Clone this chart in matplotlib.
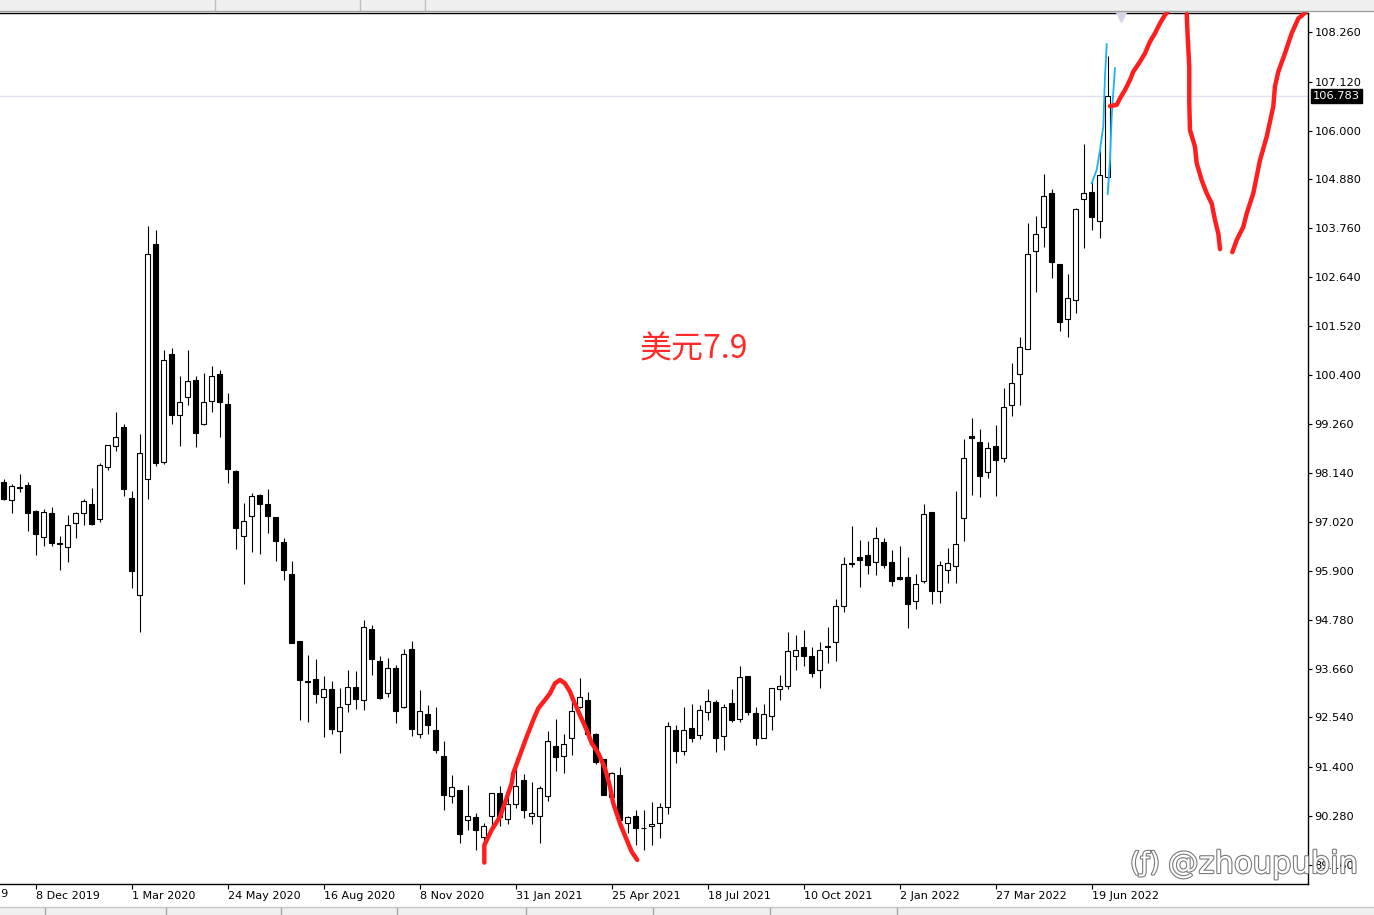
import matplotlib

matplotlib.use('Agg')
import matplotlib.pyplot as plt
import matplotlib.patheffects as pe
import matplotlib.transforms as mtransforms
from matplotlib.patches import Rectangle
import numpy as np
import pandas as pd

# weekly US dollar index candles, first bar = week of 10 Nov 2019
first_week = '2019-11-10'
opens = [97.93, 97.52, 97.82, 97.86, 97.27, 96.67, 97.22, 96.53, 96.44, 96.99,
         97.22, 97.43, 97.08, 98.28, 98.76, 99.19, 97.57, 95.34, 98.00, 103.39,
         98.40, 100.87, 99.47, 99.90, 100.29, 99.26, 99.79, 100.41, 99.72, 98.18,
         96.69, 97.15, 97.64, 97.43, 97.13, 96.56, 95.84, 94.29, 93.38, 93.41,
         93.00, 93.18, 92.22, 92.84, 93.23, 92.95, 94.56, 93.83, 93.09, 93.67,
         92.77, 94.10, 92.17, 92.61, 92.24, 91.65, 90.73, 90.87, 90.18, 90.25,
         89.79, 90.27, 90.80, 90.20, 90.55, 91.10, 90.27, 90.27, 90.73, 91.88,
         91.65, 92.06, 92.77, 92.95, 92.17, 91.58, 90.71, 91.21, 90.11, 90.27,
         90.01, 90.04, 90.11, 90.48, 92.24, 91.76, 92.29, 92.13, 92.66, 92.89,
         92.11, 92.86, 92.51, 93.48, 92.63, 92.07, 92.58, 93.18, 93.25, 93.94,
         94.15, 93.94, 93.62, 94.16, 94.26, 95.09, 96.07, 96.21, 96.26, 96.10,
         96.56, 96.10, 95.75, 95.75, 95.20, 95.66, 97.24, 95.43, 95.91, 96.01,
         97.11, 98.99, 98.85, 98.16, 98.76, 98.48, 99.70, 100.41, 100.99, 103.23,
         103.78, 104.56, 102.93, 101.67, 102.11, 104.42, 104.58, 103.92, 104.93]
highs = [98.01, 97.89, 98.12, 97.93, 97.30, 97.32, 97.37, 96.70, 97.18, 97.24,
         97.54, 97.80, 98.37, 98.79, 99.54, 99.26, 97.73, 99.03, 103.81, 103.71,
         100.96, 101.01, 100.36, 100.97, 100.36, 100.45, 100.60, 100.50, 99.97, 98.21,
         97.45, 97.68, 97.66, 97.78, 97.14, 96.65, 96.12, 94.30, 93.97, 93.88,
         93.49, 93.37, 93.21, 93.63, 93.60, 94.77, 94.65, 93.95, 93.90, 93.74,
         94.11, 94.29, 93.17, 92.82, 92.78, 92.01, 91.21, 90.88, 90.98, 90.34,
         90.11, 90.81, 90.96, 90.80, 91.60, 91.24, 91.05, 90.96, 92.22, 92.50,
         92.15, 92.91, 93.44, 93.12, 92.18, 91.59, 91.28, 91.40, 90.27, 90.41,
         90.41, 90.59, 90.57, 92.43, 92.36, 92.77, 92.84, 92.82, 93.18, 92.95,
         92.84, 93.18, 93.73, 93.49, 92.77, 92.84, 93.22, 93.51, 94.49, 94.42,
         94.54, 94.15, 94.26, 94.61, 95.25, 96.21, 96.92, 96.62, 96.58, 96.90,
         96.65, 96.37, 96.46, 96.21, 95.82, 97.43, 97.25, 96.12, 96.42, 97.73,
         98.92, 99.40, 99.15, 98.85, 99.24, 100.09, 100.67, 101.26, 103.87, 104.03,
         105.00, 104.65, 102.94, 102.70, 104.22, 105.68, 104.84, 105.52, 107.70]
lows = [97.52, 97.23, 97.72, 96.82, 96.27, 96.46, 96.46, 95.92, 96.11, 96.66,
        96.96, 96.96, 97.03, 98.22, 98.66, 97.62, 95.51, 94.51, 97.54, 98.31,
        98.36, 99.28, 98.77, 99.71, 98.75, 99.25, 99.55, 98.98, 97.91, 96.40,
        95.61, 96.34, 96.29, 96.76, 96.13, 95.68, 94.24, 92.49, 92.44, 92.88,
        92.10, 92.17, 91.72, 92.66, 92.74, 92.72, 93.52, 92.97, 93.00, 92.42,
        92.75, 92.12, 92.07, 92.15, 91.72, 90.42, 90.58, 89.67, 89.95, 89.51,
        89.63, 90.06, 90.04, 90.09, 90.46, 90.23, 90.09, 89.65, 90.62, 91.32,
        91.26, 91.67, 92.76, 92.15, 91.46, 90.75, 90.65, 90.10, 89.90, 89.61,
        89.49, 89.61, 89.78, 90.32, 91.50, 91.68, 91.98, 92.05, 92.49, 91.75,
        91.80, 92.44, 92.44, 92.60, 91.91, 92.06, 92.26, 92.95, 93.18, 93.63,
        93.73, 93.46, 93.22, 93.78, 93.84, 94.95, 95.98, 95.52, 95.82, 95.80,
        95.96, 95.55, 95.69, 94.58, 95.02, 95.63, 95.13, 95.16, 95.63, 95.63,
        96.58, 97.63, 97.59, 98.02, 97.61, 98.39, 99.46, 99.71, 100.98, 102.30,
        103.34, 102.62, 101.41, 101.26, 101.82, 103.31, 103.73, 103.53, 104.65]
closes = [97.54, 97.84, 97.80, 97.23, 96.74, 97.24, 96.55, 96.51, 96.95, 97.22,
          97.50, 96.97, 98.34, 98.78, 98.96, 97.79, 95.90, 98.60, 103.16, 98.38,
          100.73, 99.48, 99.77, 100.25, 99.07, 99.77, 100.36, 99.78, 98.23, 96.88,
          97.04, 97.61, 97.43, 97.15, 96.59, 95.93, 94.25, 93.40, 93.36, 93.07,
          93.18, 92.27, 92.77, 93.23, 92.97, 94.61, 93.87, 92.98, 93.67, 92.68,
          93.99, 92.27, 92.68, 92.36, 91.79, 90.77, 90.94, 89.86, 90.27, 89.95,
          90.04, 90.80, 90.25, 90.55, 90.96, 90.41, 90.34, 90.91, 91.99, 91.64,
          91.92, 92.68, 93.00, 92.17, 91.51, 90.77, 91.26, 90.18, 90.25, 90.00,
          90.00, 90.09, 90.48, 92.34, 91.78, 92.24, 92.07, 92.70, 92.91, 92.07,
          92.77, 92.49, 93.46, 92.67, 92.07, 92.61, 93.21, 93.25, 94.06, 94.08,
          93.94, 93.55, 94.08, 94.18, 95.09, 96.05, 96.05, 96.14, 96.03, 96.65,
          96.03, 95.66, 95.71, 95.13, 95.59, 97.20, 95.43, 96.03, 96.07, 96.51,
          98.48, 98.94, 98.07, 98.71, 98.44, 99.67, 100.20, 101.03, 103.16, 103.62,
          104.49, 102.99, 101.60, 102.15, 104.19, 104.56, 104.01, 104.97, 106.783]

price_ticks = [108.260, 107.120, 106.000, 104.880, 103.760, 102.640, 101.520,
               100.400, 99.260, 98.140, 97.020, 95.900, 94.780, 93.660, 92.540,
               91.400, 90.280, 89.160]
date_labels = ['2019-09-15', '2019-12-08', '2020-03-01', '2020-05-24', '2020-08-16',
               '2020-11-08', '2021-01-31', '2021-04-25', '2021-07-18', '2021-10-10',
               '2022-01-02', '2022-03-27', '2022-06-19']

# hand drawn strokes (bar index, price)
arc_x = [60.08, 60.08, 61.0, 62.04, 62.79, 63.5, 63.7, 64.54, 65.38, 66.2, 66.83,
         67.66, 68.29, 68.91, 69.54, 70.16, 70.79, 71.2, 72.04, 72.88, 73.5, 74.33,
         75.16, 75.79, 76.2, 77.04, 77.88, 78.5, 79.2]
arc_y = [89.21, 89.61, 89.96, 90.26, 90.65, 91.03, 91.26, 91.68, 92.10, 92.48, 92.75,
         92.94, 93.09, 93.32, 93.40, 93.32, 93.13, 92.94, 92.59, 92.25, 91.95, 91.72,
         91.37, 90.95, 90.57, 90.11, 89.73, 89.46, 89.27]
up_x = [138.29, 139.13, 139.54, 140.16, 140.79, 141.2, 142.04, 142.66, 143.29,
        143.91, 144.54, 145.16, 145.7]
up_y = [106.56, 106.59, 106.74, 106.93, 107.16, 107.35, 107.58, 107.77, 108.04,
        108.23, 108.46, 108.65, 108.78]
down_x = [147.88, 148.0, 148.2, 148.2, 148.29, 148.91, 149.13, 149.75, 150.38,
          151.0, 151.41, 151.83, 152.04]
down_y = [108.67, 108.15, 107.46, 106.62, 106.01, 105.63, 105.25, 104.86, 104.56,
          104.33, 103.95, 103.64, 103.28]
rise_x = [153.58, 154.13, 154.95, 155.38, 156.2, 157.04, 157.88, 158.7, 158.91,
          159.33, 160.16, 161.0, 161.83, 162.66]
rise_y = [103.21, 103.49, 103.79, 104.10, 104.56, 105.32, 105.86, 106.55, 107.01,
          107.35, 107.77, 108.23, 108.57, 108.70]
blue1_x = [136.0, 136.63, 137.04, 137.45, 137.66, 137.88]
blue1_y = [104.79, 105.10, 105.55, 106.09, 107.23, 107.98]
blue2_x = [138.0, 138.29, 138.5, 138.91]
blue2_y = [104.54, 105.32, 106.32, 107.43]

W, H = 1374, 915
fig = plt.figure(figsize=(W / 100, H / 100), dpi=100)
fig.patch.set_facecolor('white')

# window chrome: toolbar on top, status bar at the bottom
fig.patches.append(Rectangle((0, 1 - 11 / H), 1, 11 / H, transform=fig.transFigure,
                             facecolor='#f0f0f0', edgecolor='none'))
fig.lines.append(plt.Line2D([0, 1], [1 - 11 / H] * 2, transform=fig.transFigure,
                            color='#a0a0a0', lw=1))
fig.patches.append(Rectangle((0, 0), 1, 8 / H, transform=fig.transFigure,
                             facecolor='#f0f0f0', edgecolor='none'))
fig.lines.append(plt.Line2D([0, 1], [8 / H] * 2, transform=fig.transFigure,
                            color='#c8c8c8', lw=1))
for sx in [45, 166, 281, 397, 526, 653, 770, 897]:
    fig.lines.append(plt.Line2D([sx / W] * 2, [0, 7 / H], transform=fig.transFigure,
                                color='#a8a8a8', lw=1))
for sx in [215, 360, 425]:
    fig.lines.append(plt.Line2D([sx / W] * 2, [1 - 10 / H, 1], transform=fig.transFigure,
                                color='#c0c0c0', lw=1))

ax = fig.add_axes([0, 1 - 884 / H, 1308 / W, (884 - 13) / H])
ax.set_xlim(-0.46, 163.04)
ax.set_ylim(88.719, 108.696)

x = np.arange(len(opens))
o = np.array(opens)
c = np.array(closes)
ax.vlines(x, lows, highs, colors='black', linewidth=0.8, zorder=2)
bottom = np.minimum(o, c)
height = np.maximum(np.abs(c - o), 0.012)
face = ['white' if cc >= oo else 'black' for oo, cc in zip(o, c)]
ax.bar(x, height, bottom=bottom, width=0.58, color=face, edgecolor='black',
       linewidth=0.8, zorder=3)

last = closes[-1]
ax.axhline(last, color='#e2e2f2', lw=1, zorder=1)

# chart shift marker
ax.plot([139.66], [108.60], marker='v', ms=7, color='#d4d4e8', clip_on=False, zorder=4)

for spine in ['top', 'right', 'bottom']:
    ax.spines[spine].set_linewidth(1)
ax.spines['left'].set_visible(False)

ax.yaxis.tick_right()
ax.set_yticks(price_ticks)
ax.set_yticklabels([f'{v:.3f}' for v in price_ticks])
ax.tick_params(axis='y', direction='out', length=3, width=0.8, pad=1.5,
               labelsize=8.2, colors='black')

weeks = pd.date_range(first_week, periods=len(opens), freq='7D')
label_dates = pd.to_datetime(date_labels)
label_pos = [(d - weeks[0]).days / 7 for d in label_dates]
label_txt = [f'{d.day} {d.strftime("%b %Y")}' for d in label_dates]
ax.set_xticks(label_pos[1:])
ax.set_xticklabels(label_txt[1:])
shift = mtransforms.ScaledTranslation(-2 / 100, 0, fig.dpi_scale_trans)
for t in ax.get_xticklabels():
    t.set_horizontalalignment('left')
    t.set_transform(t.get_transform() + shift)
ax.tick_params(axis='x', direction='out', length=3.5, width=0.8, pad=1.5,
               labelsize=8.0, colors='black')
ax.text(label_pos[0], -0.0055, label_txt[0], transform=ax.get_xaxis_transform() + shift,
        ha='left', va='top', fontsize=8.0, clip_on=False)

# current price label
trans = mtransforms.blended_transform_factory(ax.transAxes, ax.transData)
trans = trans + mtransforms.ScaledTranslation(5 / 100, 0, fig.dpi_scale_trans)
ax.text(1.0, last, f'{last:.3f}', transform=trans, ha='left', va='center',
        fontsize=8.2, color='white', clip_on=False, zorder=6,
        bbox=dict(facecolor='black', edgecolor='black', boxstyle='square,pad=0.18'))

red = '#ff1e1e'
for xs, ys in [(arc_x, arc_y), (up_x, up_y), (down_x, down_y), (rise_x, rise_y)]:
    ax.plot(xs, ys, color=red, lw=3.2, solid_capstyle='round', solid_joinstyle='round',
            clip_on=False, zorder=7)
for xs, ys in [(blue1_x, blue1_y), (blue2_x, blue2_y)]:
    ax.plot(xs, ys, color='#19b4f2', lw=1.3, clip_on=False, zorder=6)

ax.text(86.3, 100.97, '美元7.9', fontsize=23, color='#ff2a2a', ha='center', va='center',
        family=['Noto Sans CJK SC', 'DejaVu Sans'], zorder=7)

# watermark
wm = [pe.withStroke(linewidth=1.6, foreground='#7a7a7a')]
fig.text(1168 / W, 1 - 873 / H, '@zhoupubin', fontsize=22, color='white',
         ha='left', va='baseline', path_effects=wm, zorder=10)
fig.text(1145 / W, 1 - 864 / H, '(ƒ)', fontsize=19, color='white',
         ha='center', va='center', path_effects=wm, zorder=10)

fig.savefig('out.png', dpi=100)
